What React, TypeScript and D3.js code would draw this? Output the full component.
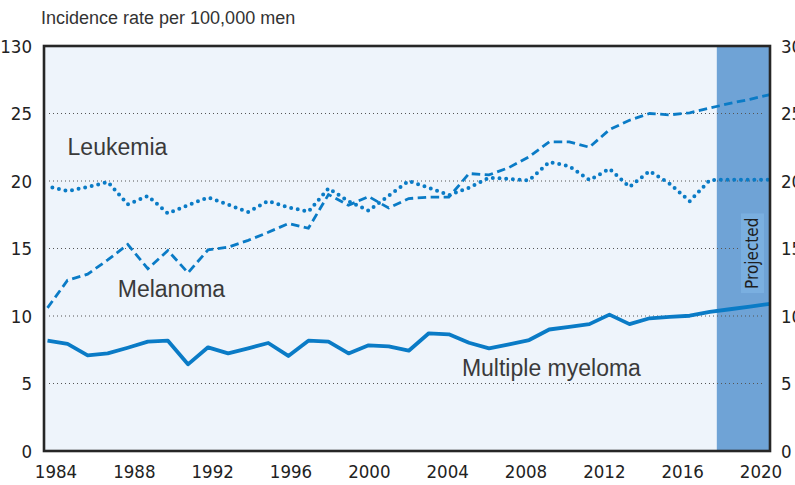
import React, { useRef, useEffect } from 'react';
import * as d3 from 'd3';

// values, 1984 - 2020 (2018+ projected)
const years = d3.range(1984, 2021);
const leukemia = [
  19.6, 19.26, 19.55, 19.93, 18.27, 18.89, 17.6, 18.2, 18.79, 18.25,
  17.7, 18.52, 18.05, 17.73, 19.45, 18.5, 17.8, 18.9, 20.0, 19.5,
  18.95, 19.5, 20.25, 20.15, 20.05, 21.4, 21.1, 20.07, 20.9, 19.56,
  20.74, 19.8, 18.5, 20.07, 20.1, 20.1, 20.1,
];
const melanoma = [
  10.6, 12.65, 13.1, 14.15, 15.3, 13.5, 14.85, 13.2, 14.9, 15.1,
  15.6, 16.2, 16.85, 16.5, 19.0, 18.2, 18.85, 18.0, 18.7, 18.8,
  18.8, 20.55, 20.45, 21.0, 21.8, 22.9, 22.9, 22.5, 23.8, 24.5,
  25.0, 24.9, 25.05, 25.4, 25.75, 26.05, 26.4,
];
const myeloma = [
  8.17, 7.93, 7.09, 7.23, 7.65, 8.1, 8.17, 6.42, 7.68, 7.23,
  7.6, 8.0, 7.04, 8.17, 8.1, 7.23, 7.83, 7.75, 7.43, 8.72,
  8.64, 8.02, 7.6, 7.9, 8.22, 9.0, 9.2, 9.4, 10.1, 9.4,
  9.83, 9.93, 10.02, 10.3, 10.5, 10.7, 10.9,
];

const yTicks = [0, 5, 10, 15, 20, 25, 30];
const leftTickLabels = ['0', '5', '10', '15', '20', '25', '130'];
const rightTickLabels = ['0', '5', '10', '15', '20', '25', '30'];
const xTicks = [1984, 1988, 1992, 1996, 2000, 2004, 2008, 2012, 2016, 2020];
const projectedStart = 2017.35;
const yTitle = 'Incidence rate per 100,000 men';

const blue = '#0a7bc6';
const narrow = "'Liberation Sans Narrow', 'DejaVu Sans Condensed', sans-serif";
const sans = "'Liberation Sans', Arial, sans-serif";

const App = () => {
  const svgRef = useRef(null);

  useEffect(() => {
    const svg = d3.select(svgRef.current);
    svg.selectAll('*').remove();

    const left = 44, right = 770, top = 46, bottom = 451;

    const x = d3.scaleLinear().domain([1984, 2020]).range([47.5, right]);
    const xLabel = d3.scaleLinear().domain([1984, 2020]).range([56, 761]);
    const y = d3.scaleLinear().domain([0, 30]).range([bottom, top]);

    // plot background + projected band
    svg.append('rect')
      .attr('x', left).attr('y', top)
      .attr('width', right - left).attr('height', bottom - top)
      .attr('fill', '#eef4fb');
    svg.append('rect')
      .attr('x', x(projectedStart)).attr('y', top)
      .attr('width', right - x(projectedStart)).attr('height', bottom - top)
      .attr('fill', '#6fa3d6');

    // dotted gridlines
    svg.append('g').selectAll('line')
      .data(yTicks.filter(d => d > 0 && d < 30))
      .join('line')
      .attr('x1', left + 5).attr('x2', right - 7)
      .attr('y1', d => y(d)).attr('y2', d => y(d))
      .attr('stroke', '#555')
      .attr('stroke-width', 1)
      .attr('stroke-dasharray', '1 3');

    // "Projected" tag
    const tagX = right - 29, tagW = 23;
    svg.append('rect')
      .attr('x', tagX).attr('y', y(17.6))
      .attr('width', tagW).attr('height', y(11.7) - y(17.6))
      .attr('fill', '#7aafe0');
    svg.append('text')
      .attr('transform', `translate(${tagX + tagW / 2 + 5.5},${y(14.65)}) rotate(-90)`)
      .attr('text-anchor', 'middle')
      .style('font-family', narrow)
      .style('font-size', '17px')
      .attr('fill', '#1e1e1e')
      .text('Projected');

    // lines
    const line = d3.line()
      .x((d, i) => x(years[i]))
      .y(d => y(d));

    svg.append('path')
      .datum(myeloma)
      .attr('fill', 'none')
      .attr('stroke', blue)
      .attr('stroke-width', 3.8)
      .attr('stroke-linejoin', 'round')
      .attr('d', line);

    svg.append('path')
      .datum(melanoma)
      .attr('fill', 'none')
      .attr('stroke', blue)
      .attr('stroke-width', 2.8)
      .attr('stroke-dasharray', '8.5 4.5')
      .attr('d', line);

    svg.append('path')
      .datum(leukemia)
      .attr('fill', 'none')
      .attr('stroke', blue)
      .attr('stroke-width', 4)
      .attr('stroke-linecap', 'round')
      .attr('stroke-dasharray', '0 6.7')
      .attr('stroke-dashoffset', -5)
      .attr('d', line);

    // frame
    svg.append('rect')
      .attr('x', left).attr('y', top)
      .attr('width', right - left).attr('height', bottom - top)
      .attr('fill', 'none')
      .attr('stroke', '#262626')
      .attr('stroke-width', 2.6);

    // y tick labels, both sides
    svg.append('g').selectAll('text')
      .data(yTicks)
      .join('text')
      .attr('x', 32).attr('y', d => y(d)).attr('dy', '0.36em')
      .attr('text-anchor', 'end')
      .style('font-family', narrow).style('font-size', '18.5px')
      .attr('fill', '#222')
      .text((d, i) => leftTickLabels[i]);
    svg.append('g').selectAll('text')
      .data(yTicks)
      .join('text')
      .attr('x', 781).attr('y', d => y(d)).attr('dy', '0.36em')
      .style('font-family', narrow).style('font-size', '18.5px')
      .attr('fill', '#222')
      .text((d, i) => rightTickLabels[i]);

    // x tick labels
    svg.append('g').selectAll('text')
      .data(xTicks)
      .join('text')
      .attr('x', d => xLabel(d)).attr('y', 478)
      .attr('text-anchor', 'middle')
      .style('font-family', narrow).style('font-size', '18.5px')
      .attr('fill', '#222')
      .text(d => d);

    // axis title
    svg.append('text')
      .attr('x', 41).attr('y', 24)
      .style('font-family', sans).style('font-size', '18px')
      .attr('fill', '#333')
      .text(yTitle);

    // series labels
    const labels = [
      { text: 'Leukemia', yr: 1985, v: 21.9 },
      { text: 'Melanoma', yr: 1987.5, v: 11.4 },
      { text: 'Multiple myeloma', yr: 2004.65, v: 5.55 },
    ];
    svg.append('g').selectAll('text')
      .data(labels)
      .join('text')
      .attr('x', d => x(d.yr)).attr('y', d => y(d.v))
      .style('font-family', sans).style('font-size', '23px')
      .attr('fill', '#3a3a3a')
      .text(d => d.text);
  }, []);

  return (
    <div style={{ position: 'absolute', left: 0, top: 0, width: 795, height: 485, overflow: 'hidden', background: '#fff' }}>
      <svg ref={svgRef} width={795} height={485}></svg>
    </div>
  );
};

export default App;
